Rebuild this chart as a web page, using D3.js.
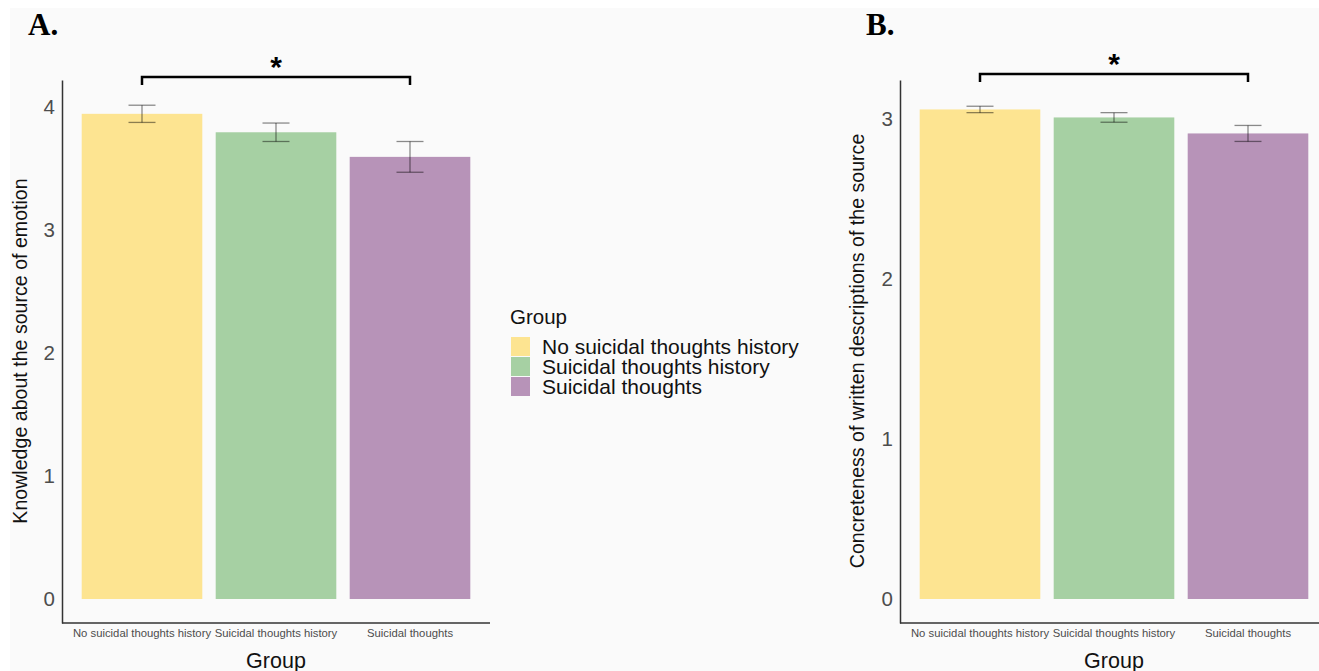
<!DOCTYPE html>
<html>
<head>
<meta charset="utf-8">
<script src="https://cdn.jsdelivr.net/npm/d3@7"></script>
<style>
  body { margin: 0; background: #fff; }
</style>
</head>
<body>
<svg id="chart" width="1319" height="671" font-family="'Liberation Sans', Arial, sans-serif"></svg>
<script>
// Data
const groups = ['No suicidal thoughts history', 'Suicidal thoughts history', 'Suicidal thoughts'];
const colors = ['#fde491', '#a6d0a3', '#b793b8'];

const knowledgeMean = [3.945, 3.795, 3.595];
const knowledgeSE = [0.07, 0.075, 0.125];
const knowledgeTicks = [0, 1, 2, 3, 4];

const concreteMean = [3.06, 3.01, 2.91];
const concreteSE = [0.02, 0.03, 0.05];
const concreteTicks = [0, 1, 2, 3];

const svg = d3.select('#chart');

// panel background
svg.append('rect')
  .attr('x', 10).attr('y', 8)
  .attr('width', 1309).attr('height', 663)
  .attr('fill', '#fafafa');

function drawPanel(opts) {
  const x = d3.scaleBand()
    .domain(groups)
    .range(opts.xRange)
    .paddingInner(0.1)
    .paddingOuter(0.147);

  const y = d3.scaleLinear()
    .domain(opts.yDomain)
    .range([623, 80]);

  const g = svg.append('g');

  // bars
  g.selectAll('.bar')
    .data(opts.means)
    .enter()
    .append('rect')
    .attr('class', 'bar')
    .attr('x', (d, i) => x(groups[i]))
    .attr('width', x.bandwidth())
    .attr('y', d => y(d))
    .attr('height', d => y(0) - y(d))
    .attr('fill', (d, i) => colors[i]);

  // error bars
  const eb = g.selectAll('.err')
    .data(opts.means)
    .enter()
    .append('g')
    .attr('class', 'err')
    .attr('stroke', 'rgba(0,0,0,0.45)')
    .attr('stroke-width', 1.3);

  const cx = i => x(groups[i]) + x.bandwidth() / 2;
  eb.append('line')
    .attr('x1', (d, i) => cx(i)).attr('x2', (d, i) => cx(i))
    .attr('y1', (d, i) => y(d + opts.se[i])).attr('y2', (d, i) => y(d - opts.se[i]));
  eb.append('line')
    .attr('x1', (d, i) => cx(i) - 13.5).attr('x2', (d, i) => cx(i) + 13.5)
    .attr('y1', (d, i) => y(d + opts.se[i])).attr('y2', (d, i) => y(d + opts.se[i]));
  eb.append('line')
    .attr('x1', (d, i) => cx(i) - 13.5).attr('x2', (d, i) => cx(i) + 13.5)
    .attr('y1', (d, i) => y(d - opts.se[i])).attr('y2', (d, i) => y(d - opts.se[i]));

  // axes
  const yAxis = g.append('g')
    .attr('transform', `translate(${opts.xRange[0]},0)`)
    .call(d3.axisLeft(y).tickValues(opts.ticks).tickSize(0).tickPadding(7).tickFormat(d3.format('d')));
  yAxis.attr('font-family', null);
  yAxis.select('.domain').attr('stroke', '#333').attr('stroke-width', 1.5);
  yAxis.selectAll('text').attr('font-size', 20.5).attr('fill', '#4d4d4d');

  const xAxis = g.append('g')
    .attr('transform', 'translate(0,623)')
    .call(d3.axisBottom(x).tickSize(0).tickPadding(6));
  xAxis.attr('font-family', null);
  xAxis.select('.domain').attr('stroke', '#333').attr('stroke-width', 1.5)
    .attr('d', `M${opts.xRange[0]},0H${opts.xRange[1]}`);
  xAxis.selectAll('text').attr('font-size', 11.3).attr('fill', '#4d4d4d');

  // axis titles
  g.append('text')
    .attr('x', (opts.xRange[0] + opts.xRange[1]) / 2)
    .attr('y', 668)
    .attr('text-anchor', 'middle')
    .attr('font-size', 21.5)
    .attr('fill', '#111')
    .text('Group');

  g.append('text')
    .attr('transform', `translate(${opts.yTitleX},351) rotate(-90)`)
    .attr('text-anchor', 'middle')
    .attr('font-size', 19.6)
    .attr('fill', '#111')
    .text(opts.yTitle);

  // significance bracket
  const bx1 = cx(0), bx2 = cx(2);
  g.append('path')
    .attr('d', `M${bx1},${opts.bracketY + 8}V${opts.bracketY}H${bx2}V${opts.bracketY + 8}`)
    .attr('fill', 'none')
    .attr('stroke', '#000')
    .attr('stroke-width', 2.5);
  g.append('text')
    .attr('x', (bx1 + bx2) / 2)
    .attr('y', opts.bracketY)
    .attr('text-anchor', 'middle')
    .attr('font-size', 30)
    .attr('font-weight', 'bold')
    .text('*');

  // panel label
  g.append('text')
    .attr('x', opts.labelX)
    .attr('y', 35)
    .attr('font-family', '"Liberation Serif", "Times New Roman", serif')
    .attr('font-weight', 'bold')
    .attr('font-size', 31)
    .attr('fill', '#000')
    .text(opts.label);
}

drawPanel({
  xRange: [62, 490],
  yDomain: [-0.195, 4.22],
  means: knowledgeMean,
  se: knowledgeSE,
  ticks: knowledgeTicks,
  yTitle: 'Knowledge about the source of emotion',
  yTitleX: 27,
  bracketY: 77,
  label: 'A.',
  labelX: 28
});

drawPanel({
  xRange: [900, 1328],
  yDomain: [-0.15, 3.244],
  means: concreteMean,
  se: concreteSE,
  ticks: concreteTicks,
  yTitle: 'Concreteness of written descriptions of the source',
  yTitleX: 864,
  bracketY: 74,
  label: 'B.',
  labelX: 866
});

// legend
const legend = svg.append('g').attr('transform', 'translate(510,0)');
legend.append('text')
  .attr('x', 0).attr('y', 324)
  .attr('font-size', 20.5)
  .attr('fill', '#111')
  .text('Group');
groups.forEach((name, i) => {
  legend.append('rect')
    .attr('x', 1).attr('y', 337 + i * 20)
    .attr('width', 19).attr('height', 19)
    .attr('fill', colors[i]);
  legend.append('text')
    .attr('x', 32).attr('y', 354 + i * 20)
    .attr('font-size', 21)
    .attr('fill', '#111')
    .text(name);
});
</script>
</body>
</html>
